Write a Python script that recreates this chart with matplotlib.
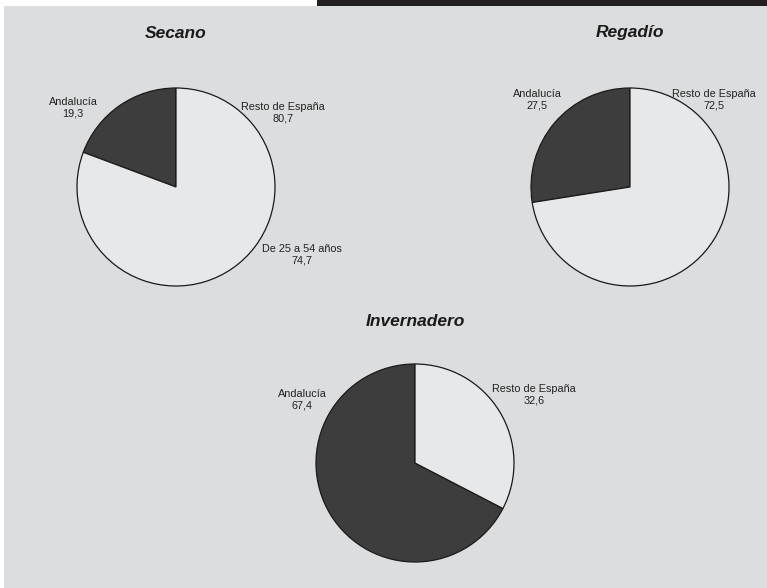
import matplotlib.pyplot as plt
from matplotlib.patches import Rectangle

# ---- data ----
titles = ['Secano', 'Regadío', 'Invernadero']
andalucia = [19.3, 27.5, 67.4]
resto = [80.7, 72.5, 32.6]
extra_label = 'De 25 a 54 años'
extra_value = 74.7


def fmt(v):
    return f"{v:.1f}".replace('.', ',')


W, H = 767, 588
BG = '#dcdddf'
DARK = '#3d3d3d'
LIGHT = '#e7e8ea'

fig = plt.figure(figsize=(W / 100, H / 100), dpi=100, facecolor='white')
ax = fig.add_axes([0, 0, 1, 1])
ax.set_facecolor('white')


def py(y):
    # pixel y (top-down) -> data y
    return H - y


# background panel and top bar
ax.add_patch(Rectangle((4, 0), W - 4, H - 6, facecolor=BG, edgecolor='none', zorder=0))
ax.add_patch(Rectangle((317, py(6)), W - 317, 6, facecolor='#231f20', edgecolor='none', zorder=0))

# pie layout: (center x, center y, title y, label positions)
centers = [(176, 187), (630, 187), (415, 463)]
title_y = [33, 33, 322]
and_pos = [(73, 108), (537, 100), (302, 400)]
resto_pos = [(283, 113), (714, 100), (534, 395)]
R = 99

for i in range(3):
    cx, cy = centers[i]
    ax.pie([andalucia[i], resto[i]], colors=[DARK, LIGHT], startangle=90,
           counterclock=True, center=(cx, py(cy)), radius=R,
           wedgeprops=dict(edgecolor='#1a1a1a', linewidth=0.9))
    ax.text(cx, py(title_y[i]), titles[i], ha='center', va='center',
            fontsize=12.5, fontweight='bold', fontstyle='italic',
            family='Liberation Sans', color='#1a1a1a')
    ax.text(and_pos[i][0], py(and_pos[i][1]), f"Andalucía\n{fmt(andalucia[i])}",
            ha='center', va='center', fontsize=7.8, family='Liberation Sans',
            color='#222222', linespacing=1.2)
    ax.text(resto_pos[i][0], py(resto_pos[i][1]), f"Resto de España\n{fmt(resto[i])}",
            ha='center', va='center', fontsize=7.8, family='Liberation Sans',
            color='#222222', linespacing=1.2)

ax.text(302, py(255), f"{extra_label}\n{fmt(extra_value)}", ha='center', va='center',
        fontsize=7.8, family='Liberation Sans', color='#222222', linespacing=1.2)

ax.set_xlim(0, W)
ax.set_ylim(0, H)
ax.set_aspect('auto')
ax.axis('off')

fig.savefig('out.png', dpi=100, facecolor='white')
